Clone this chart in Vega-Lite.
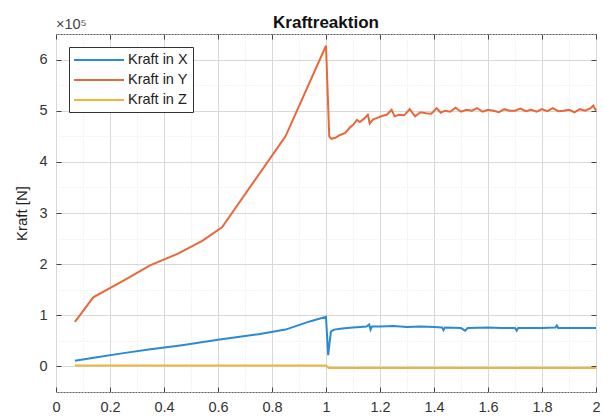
{
 "$schema": "https://vega.github.io/schema/vega-lite/v6.json",
 "width": 540,
 "height": 358,
 "autosize": {"type": "none"},
 "padding": {"left": 56, "top": 34, "right": 10, "bottom": 26},
 "background": "white",
 "title": {"text": "Kraftreaktion", "fontSize": 17, "fontWeight": "bold", "font": "Liberation Sans", "color": "#111", "anchor": "middle", "frame": "group", "offset": 0, "dy": 15},
 "config": {
  "font": "Liberation Sans",
  "view": {"stroke": "#606060", "strokeWidth": 1},
  "axis": {"labelFont": "Liberation Sans", "labelFontSize": 14.5, "labelColor": "#333", "titleFont": "Liberation Sans", "titleFontSize": 15, "titleColor": "#222", "titleFontWeight": "normal", "domain": false, "tickColor": "#444", "tickSize": -5, "labelOverlap": false, "labelFlush": false}
 },
 "layer": [
  {
   "data": {"values": [
    {"k": "Kraft in X", "x": 0.07, "F": 11000},
    {"k": "Kraft in X", "x": 0.14, "F": 17000},
    {"k": "Kraft in X", "x": 0.25, "F": 26000},
    {"k": "Kraft in X", "x": 0.35, "F": 33500},
    {"k": "Kraft in X", "x": 0.46, "F": 41000},
    {"k": "Kraft in X", "x": 0.6, "F": 52000},
    {"k": "Kraft in X", "x": 0.75, "F": 63000},
    {"k": "Kraft in X", "x": 0.85, "F": 72000},
    {"k": "Kraft in X", "x": 0.94, "F": 88000},
    {"k": "Kraft in X", "x": 1.0, "F": 97000},
    {"k": "Kraft in X", "x": 1.008, "F": 22000},
    {"k": "Kraft in X", "x": 1.018, "F": 68000},
    {"k": "Kraft in X", "x": 1.03, "F": 72000},
    {"k": "Kraft in X", "x": 1.06, "F": 74000},
    {"k": "Kraft in X", "x": 1.1, "F": 76000},
    {"k": "Kraft in X", "x": 1.15, "F": 78000},
    {"k": "Kraft in X", "x": 1.16, "F": 82000},
    {"k": "Kraft in X", "x": 1.165, "F": 72000},
    {"k": "Kraft in X", "x": 1.17, "F": 78000},
    {"k": "Kraft in X", "x": 1.2, "F": 78000},
    {"k": "Kraft in X", "x": 1.25, "F": 79000},
    {"k": "Kraft in X", "x": 1.3, "F": 77000},
    {"k": "Kraft in X", "x": 1.35, "F": 78000},
    {"k": "Kraft in X", "x": 1.4, "F": 77000},
    {"k": "Kraft in X", "x": 1.43, "F": 76000},
    {"k": "Kraft in X", "x": 1.435, "F": 71000},
    {"k": "Kraft in X", "x": 1.44, "F": 76000},
    {"k": "Kraft in X", "x": 1.5, "F": 75000},
    {"k": "Kraft in X", "x": 1.515, "F": 70000},
    {"k": "Kraft in X", "x": 1.525, "F": 75000},
    {"k": "Kraft in X", "x": 1.6, "F": 76000},
    {"k": "Kraft in X", "x": 1.65, "F": 75000},
    {"k": "Kraft in X", "x": 1.7, "F": 75000},
    {"k": "Kraft in X", "x": 1.706, "F": 70000},
    {"k": "Kraft in X", "x": 1.712, "F": 75000},
    {"k": "Kraft in X", "x": 1.8, "F": 75000},
    {"k": "Kraft in X", "x": 1.85, "F": 76000},
    {"k": "Kraft in X", "x": 1.855, "F": 80000},
    {"k": "Kraft in X", "x": 1.86, "F": 75000},
    {"k": "Kraft in X", "x": 1.9, "F": 75000},
    {"k": "Kraft in X", "x": 1.95, "F": 75000},
    {"k": "Kraft in X", "x": 2.0, "F": 75000},
    {"k": "Kraft in Y", "x": 0.07, "F": 87000},
    {"k": "Kraft in Y", "x": 0.138, "F": 135000},
    {"k": "Kraft in Y", "x": 0.25, "F": 168000},
    {"k": "Kraft in Y", "x": 0.35, "F": 198000},
    {"k": "Kraft in Y", "x": 0.45, "F": 220000},
    {"k": "Kraft in Y", "x": 0.54, "F": 245000},
    {"k": "Kraft in Y", "x": 0.615, "F": 272000},
    {"k": "Kraft in Y", "x": 0.85, "F": 450000},
    {"k": "Kraft in Y", "x": 1.0, "F": 627000},
    {"k": "Kraft in Y", "x": 1.012, "F": 450000},
    {"k": "Kraft in Y", "x": 1.02, "F": 445000},
    {"k": "Kraft in Y", "x": 1.035, "F": 447000},
    {"k": "Kraft in Y", "x": 1.05, "F": 452000},
    {"k": "Kraft in Y", "x": 1.07, "F": 456000},
    {"k": "Kraft in Y", "x": 1.08, "F": 462000},
    {"k": "Kraft in Y", "x": 1.09, "F": 468000},
    {"k": "Kraft in Y", "x": 1.1, "F": 472000},
    {"k": "Kraft in Y", "x": 1.115, "F": 482000},
    {"k": "Kraft in Y", "x": 1.125, "F": 478000},
    {"k": "Kraft in Y", "x": 1.14, "F": 484000},
    {"k": "Kraft in Y", "x": 1.155, "F": 492000},
    {"k": "Kraft in Y", "x": 1.162, "F": 475000},
    {"k": "Kraft in Y", "x": 1.175, "F": 483000},
    {"k": "Kraft in Y", "x": 1.19, "F": 486000},
    {"k": "Kraft in Y", "x": 1.21, "F": 490000},
    {"k": "Kraft in Y", "x": 1.225, "F": 492000},
    {"k": "Kraft in Y", "x": 1.243, "F": 502000},
    {"k": "Kraft in Y", "x": 1.254, "F": 489000},
    {"k": "Kraft in Y", "x": 1.27, "F": 492000},
    {"k": "Kraft in Y", "x": 1.29, "F": 491000},
    {"k": "Kraft in Y", "x": 1.31, "F": 503000},
    {"k": "Kraft in Y", "x": 1.33, "F": 489000},
    {"k": "Kraft in Y", "x": 1.35, "F": 497000},
    {"k": "Kraft in Y", "x": 1.37, "F": 495000},
    {"k": "Kraft in Y", "x": 1.39, "F": 494000},
    {"k": "Kraft in Y", "x": 1.41, "F": 505000},
    {"k": "Kraft in Y", "x": 1.425, "F": 496000},
    {"k": "Kraft in Y", "x": 1.44, "F": 500000},
    {"k": "Kraft in Y", "x": 1.46, "F": 498000},
    {"k": "Kraft in Y", "x": 1.48, "F": 506000},
    {"k": "Kraft in Y", "x": 1.5, "F": 498000},
    {"k": "Kraft in Y", "x": 1.52, "F": 502000},
    {"k": "Kraft in Y", "x": 1.54, "F": 500000},
    {"k": "Kraft in Y", "x": 1.56, "F": 505000},
    {"k": "Kraft in Y", "x": 1.58, "F": 498000},
    {"k": "Kraft in Y", "x": 1.6, "F": 502000},
    {"k": "Kraft in Y", "x": 1.62, "F": 500000},
    {"k": "Kraft in Y", "x": 1.64, "F": 497000},
    {"k": "Kraft in Y", "x": 1.66, "F": 503000},
    {"k": "Kraft in Y", "x": 1.68, "F": 500000},
    {"k": "Kraft in Y", "x": 1.7, "F": 500000},
    {"k": "Kraft in Y", "x": 1.72, "F": 504000},
    {"k": "Kraft in Y", "x": 1.74, "F": 499000},
    {"k": "Kraft in Y", "x": 1.76, "F": 502000},
    {"k": "Kraft in Y", "x": 1.78, "F": 498000},
    {"k": "Kraft in Y", "x": 1.8, "F": 503000},
    {"k": "Kraft in Y", "x": 1.82, "F": 499000},
    {"k": "Kraft in Y", "x": 1.84, "F": 505000},
    {"k": "Kraft in Y", "x": 1.86, "F": 499000},
    {"k": "Kraft in Y", "x": 1.88, "F": 500000},
    {"k": "Kraft in Y", "x": 1.9, "F": 502000},
    {"k": "Kraft in Y", "x": 1.92, "F": 497000},
    {"k": "Kraft in Y", "x": 1.94, "F": 503000},
    {"k": "Kraft in Y", "x": 1.96, "F": 500000},
    {"k": "Kraft in Y", "x": 1.98, "F": 505000},
    {"k": "Kraft in Y", "x": 1.99, "F": 510000},
    {"k": "Kraft in Y", "x": 2.0, "F": 500000},
    {"k": "Kraft in Z", "x": 0.07, "F": 2000},
    {"k": "Kraft in Z", "x": 0.5, "F": 2000},
    {"k": "Kraft in Z", "x": 1.0, "F": 2000},
    {"k": "Kraft in Z", "x": 1.01, "F": -3000},
    {"k": "Kraft in Z", "x": 1.5, "F": -3000},
    {"k": "Kraft in Z", "x": 2.0, "F": -3000}
   ]},
   "mark": {"type": "line", "strokeWidth": 2},
   "encoding": {
    "x": {"field": "x", "type": "quantitative",
     "scale": {"domain": [0, 2], "nice": false, "zero": false},
     "axis": {"title": null, "orient": "bottom",
      "values": [0, 0.1, 0.2, 0.3, 0.4, 0.5, 0.6, 0.7, 0.8, 0.9, 1, 1.1, 1.2, 1.3, 1.4, 1.5, 1.6, 1.7, 1.8, 1.9, 2],
      "labelExpr": "abs(datum.value*5-round(datum.value*5))<0.001 ? toString(round(datum.value*10)/10) : ''",
      "labelPadding": 13,
      "grid": true,
      "gridColor": {"condition": {"test": "abs(datum.value*5-round(datum.value*5))<0.001", "value": "#d8d8d8"}, "value": "#e6e6e6"},
      "gridDash": {"condition": {"test": "abs(datum.value*5-round(datum.value*5))<0.001", "value": []}, "value": [1, 2]},
      "tickOpacity": {"condition": {"test": "abs(datum.value*5-round(datum.value*5))<0.001", "value": 1}, "value": 0}
     }},
    "y": {"field": "F", "type": "quantitative",
     "scale": {"domain": [-50000, 650000], "nice": false, "zero": false},
     "axis": {"title": "Kraft [N]", "orient": "left", "titlePadding": 9,
      "values": [-50000, 0, 50000, 100000, 150000, 200000, 250000, 300000, 350000, 400000, 450000, 500000, 550000, 600000, 650000],
      "labelExpr": "datum.value % 100000 == 0 ? toString(datum.value/100000) : ''",
      "labelPadding": 14,
      "grid": true,
      "gridColor": {"condition": {"test": "datum.value % 100000 == 0", "value": "#d8d8d8"}, "value": "#e6e6e6"},
      "gridDash": {"condition": {"test": "datum.value % 100000 == 0", "value": []}, "value": [1, 2]},
      "tickOpacity": {"condition": {"test": "datum.value % 100000 == 0", "value": 1}, "value": 0}
     }},
    "color": {"field": "k", "type": "nominal",
     "scale": {"domain": ["Kraft in X", "Kraft in Y", "Kraft in Z"], "range": ["#2a8ad4", "#e8683a", "#eeb43c"]},
     "legend": {"title": null, "orient": "top-left", "offset": 13, "symbolType": "M-1.143,0H6", "symbolSize": 196, "symbolStrokeWidth": 2, "symbolFillColor": "transparent", "labelFont": "Liberation Sans", "labelFontSize": 14.5, "labelColor": "#222", "labelOffset": 38, "rowPadding": 5, "padding": 5, "strokeColor": "#333", "fillColor": "#ffffff", "cornerRadius": 0}
    }
   }
  },
  {
   "data": {"values": [{"x": 0, "F": 650000, "t": "×10⁵"}]},
   "mark": {"type": "text", "align": "left", "baseline": "alphabetic", "dy": -5, "fontSize": 14.5, "color": "#444", "font": "Liberation Sans"},
   "encoding": {
    "x": {"field": "x", "type": "quantitative", "scale": {"domain": [0, 2], "nice": false, "zero": false},
     "axis": {"orient": "top", "title": null, "labels": false, "grid": false, "values": [0, 0.2, 0.4, 0.6, 0.8, 1, 1.2, 1.4, 1.6, 1.8, 2]}},
    "y": {"field": "F", "type": "quantitative", "scale": {"domain": [-50000, 650000], "nice": false, "zero": false},
     "axis": {"orient": "right", "title": null, "labels": false, "grid": false, "values": [0, 100000, 200000, 300000, 400000, 500000, 600000]}},
    "text": {"field": "t"}
   }
  }
 ],
 "resolve": {"axis": {"x": "independent", "y": "independent"}}
}
